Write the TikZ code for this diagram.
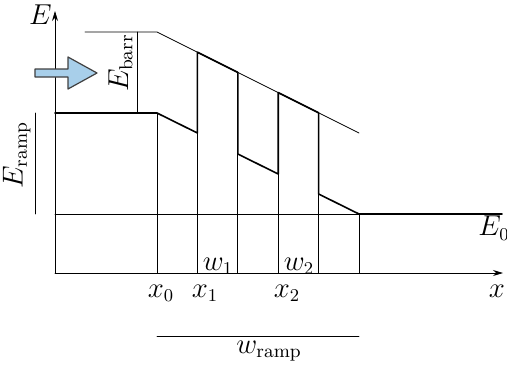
\documentclass[tikz,border=0pt]{standalone}
\usepackage{amsmath,amssymb}
\usepackage{tikz}
\usetikzlibrary{arrows.meta}
\definecolor{arrowblue}{HTML}{A8CFEA}
\tikzset{
  every picture/.style={font=\fontsize{13.5}{16}\selectfont, line join=round, line cap=round, >=Stealth},
  guide/.style={line width=0.4pt},
  profile/.style={line width=0.8pt},
}
\begin{document}
\begin{tikzpicture}[x=0.5pt,y=0.5pt]
\useasboundingbox(-55,-93)rectangle(452,273);
%axes
\draw[guide,-{Stealth[length=5pt,width=3pt]}](0,0)--(448,0);
\draw[guide,-{Stealth[length=5pt,width=3pt]}](0,0)--(0,262);
\draw(0,258)node[left,inner sep=1.5pt]{$E$}
(442,-18)node[]{$x$};
%barrier
\draw[guide](30,241)--(102,241)--(304,140);
\draw[guide](82,160)--(82,241);
\draw(82,210)node[rotate=90,anchor=south,inner sep=2pt]{$E_{\text{barr}}$};
%guide lines
\draw[guide](0,59)--(304,59)
(102,160)--(102,0)
(142.4,140)--(142.4,0)
(182.8,119)--(182.8,0)
(223.2,99)--(223.2,0)
(263.6,79)--(263.6,0)
(304,59)--(304,0);
%ramp profile
\draw[profile](0,160)--(102,160)--(142.4,140)--(142.4,220.8)--(182.8,200.6)--(182.8,119)--(223.2,99)
--(223.2,180.4)--(263.6,160.2)--(263.6,79)--(304,59)--(447,59);
\draw(421,45)node[right,inner sep=1pt]{$E_0$};
%incoming particle
\draw[line width=0.6pt,draw=black!75,fill=arrowblue](-20,196)--(13,196)--(13,184)--(42,200)--(13,216)--(13,204)--(-20,204)--cycle;
%ramp height and width
\draw[guide](-20,160)--(-20,59);
\draw(-20,118)node[rotate=90,anchor=south,inner sep=2pt]{$E_{\text{ramp}}$};
\draw[guide](102,-63)--(304,-63);
\draw(214,-78)node[]{$w_{\text{ramp}}$};
\draw(106,-20)node[]{$x_0$}
(150,-20)node[]{$x_1$}
(232,-20)node[]{$x_2$}
(163,7)node[]{$w_1$}
(244,7)node[]{$w_2$};
\end{tikzpicture}
\end{document}
